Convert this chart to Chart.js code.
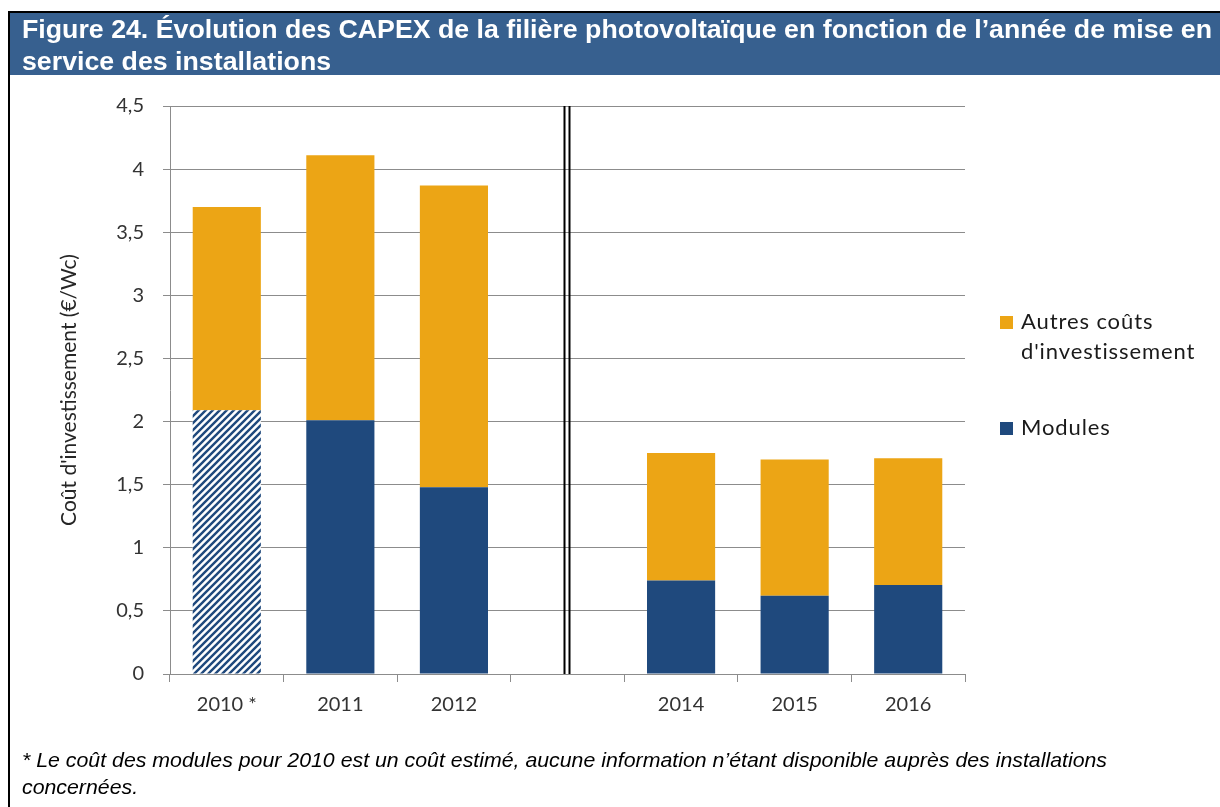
<!DOCTYPE html>
<html>
<head>
<meta charset="utf-8">
<script src="https://cdn.jsdelivr.net/npm/chart.js@4.4.1/dist/chart.umd.min.js"></script>
<style>
  html, body { margin:0; padding:0; background:#fff; }
  #page { position:relative; width:1220px; height:807px; overflow:hidden; background:#fff; }
  #topline { position:absolute; left:8px; top:11px; width:1212px; height:2px; background:#000; }
  #leftline { position:absolute; left:8px; top:11px; width:2px; height:796px; background:#000; }
  #header { position:absolute; left:10px; top:13px; width:1210px; height:62px; background:#37608F; }
  #title { position:absolute; left:22px; top:13px; color:#fff; font-family:"Liberation Sans", Arial, sans-serif; font-weight:bold; font-size:26px; line-height:32px; white-space:nowrap; transform-origin:0 0; }
  #canvasWrap { position:absolute; left:0; top:0; width:1220px; height:807px; }
  #legend { position:absolute; left:1000px; top:306px; font-family:Lato, "Open Sans", sans-serif; font-size:22px; letter-spacing:0.9px; color:#1a1a1a; }
  .sw { position:absolute; left:0; width:13px; height:13px; }
  .lt { position:absolute; left:21px; line-height:30px; white-space:nowrap; }
  #foot { position:absolute; left:22px; top:746px; font-family:"Liberation Sans", Arial, sans-serif; font-style:italic; font-size:21px; line-height:27px; color:#000; white-space:nowrap; transform-origin:0 0; }
</style>
</head>
<body>
<div id="page">
  <div id="canvasWrap"><canvas id="c" width="1220" height="807"></canvas></div>
  <div id="header"></div>
  <div id="topline"></div>
  <div id="leftline"></div>
  <div id="title"><span id="t1">Figure 24. Évolution des CAPEX de la filière photovoltaïque en fonction de l’année de mise en</span><br>service des installations</div>
  <div id="legend">
    <div class="sw" style="top:10px;background:#ECA515"></div>
    <div class="lt" style="top:0px;">Autres coûts<br>d'investissement</div>
    <div class="sw" style="top:116px;background:#1F497D"></div>
    <div class="lt" style="top:106px;">Modules</div>
  </div>
  <div id="foot"><span id="f1">* Le coût des modules pour 2010 est un coût estimé, aucune information n’étant disponible auprès des installations</span><br>concernées.</div>
</div>
<script>
const categories = ['2010 *', '2011', '2012', '', '2014', '2015', '2016'];
const modules = [2.09, 2.01, 1.48, null, 0.74, 0.62, 0.705];
const autres = [1.61, 2.10, 2.39, null, 1.01, 1.08, 1.005];
const yTicks = [0, 0.5, 1, 1.5, 2, 2.5, 3, 3.5, 4, 4.5];
const estimatedIndex = 0;
const breakIndex = 3;

const BLUE = '#1F497D';
const ORANGE = '#ECA515';

// fit header/footnote widths to the reference text extents
function fitWidth(boxId, spanId, target) {
  const w = document.getElementById(spanId).getBoundingClientRect().width;
  if (w > 0) document.getElementById(boxId).style.transform = 'scaleX(' + (target / w) + ')';
}
fitWidth('title', 't1', 1190);
fitWidth('foot', 'f1', 1085);

function makeHatch() {
  const s = 7;
  const c = document.createElement('canvas');
  c.width = s; c.height = s;
  const x = c.getContext('2d');
  x.fillStyle = '#fff';
  x.fillRect(0, 0, s, s);
  x.strokeStyle = BLUE;
  x.lineWidth = 2.4;
  x.beginPath();
  x.moveTo(-1, s + 1); x.lineTo(s + 1, -1);
  x.moveTo(-1, 1); x.lineTo(1, -1);
  x.moveTo(s - 1, s + 1); x.lineTo(s + 1, s - 1);
  x.stroke();
  return x.createPattern(c, 'repeat');
}
const hatch = makeHatch();
const moduleColors = categories.map((_, i) => i === estimatedIndex ? hatch : BLUE);

const breakPlugin = {
  id: 'breakLine',
  afterDatasetsDraw(chart) {
    const xs = chart.scales.x, ys = chart.scales.y;
    const cx = xs.getPixelForValue(breakIndex);
    const ctx = chart.ctx;
    ctx.save();
    ctx.strokeStyle = '#000';
    ctx.lineWidth = 2;
    [cx - 3, cx + 2].forEach(px => {
      ctx.beginPath();
      ctx.moveTo(px, ys.getPixelForValue(4.5));
      ctx.lineTo(px, ys.getPixelForValue(0));
      ctx.stroke();
    });
    ctx.restore();
  }
};

Chart.defaults.font.family = 'Lato, "Open Sans", sans-serif';

new Chart(document.getElementById('c'), {
  type: 'bar',
  data: {
    labels: categories,
    datasets: [
      { label: 'Modules', data: modules, backgroundColor: moduleColors, borderWidth: 0, barPercentage: 0.6, categoryPercentage: 1 },
      { label: "Autres coûts d'investissement", data: autres, backgroundColor: ORANGE, borderWidth: 0, barPercentage: 0.6, categoryPercentage: 1 }
    ]
  },
  options: {
    responsive: false,
    animation: false,
    events: [],
    layout: { padding: { left: 40, top: 106, right: 255, bottom: 67 } },
    plugins: { legend: { display: false }, tooltip: { enabled: false } },
    scales: {
      x: {
        stacked: true,
        afterFit(s) { s.height = 66; },
        grid: { display: true, drawOnChartArea: false, drawTicks: true, tickLength: 8, color: '#8C8C8C', offset: true },
        border: { display: true, color: '#8C8C8C', width: 1 },
        ticks: { color: '#333333', font: { size: 20 }, padding: 11, maxRotation: 0, autoSkip: false }
      },
      y: {
        stacked: true,
        min: 0, max: 4.5,
        afterFit(s) { s.width = 130; },
        afterBuildTicks(s) { s.ticks = yTicks.map(v => ({ value: v })); },
        grid: { color: '#8C8C8C', lineWidth: 1, drawTicks: true, tickLength: 7 },
        border: { display: true, color: '#8C8C8C', width: 1 },
        ticks: {
          color: '#333333', font: { size: 20 }, padding: 19,
          callback: v => String(v).replace('.', ',')
        },
        title: { display: true, text: "Coût d'investissement (€/Wc)", color: '#262626', font: { size: 21 }, padding: { top: 17, bottom: 0 } }
      }
    }
  },
  plugins: [breakPlugin]
});
</script>
</body>
</html>
